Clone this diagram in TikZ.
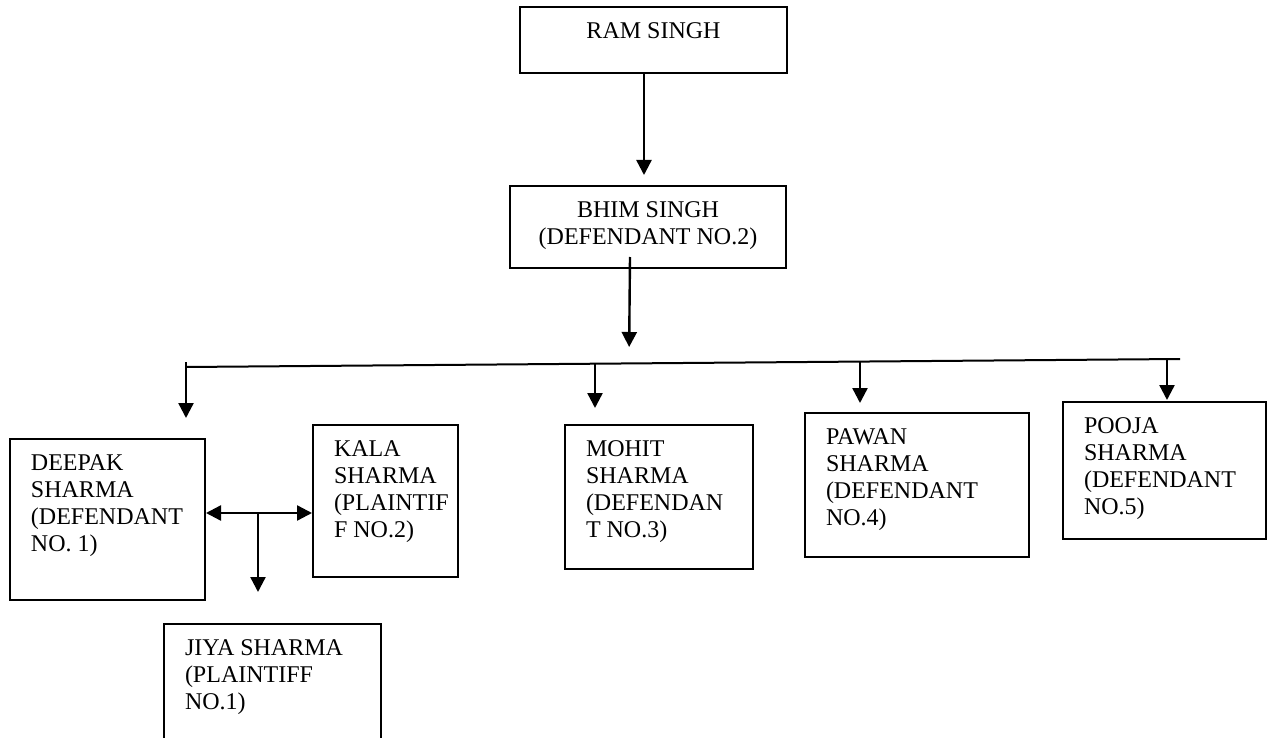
\documentclass[tikz,border=0pt]{standalone}
\usepackage{fontspec}
\setmainfont{Liberation Serif}
\usepackage{tikz}
\usetikzlibrary{arrows.meta,positioning}
% fixed-size text block, text from the top left
\newcommand{\boxtext}[4][\raggedright]{\parbox[c][\dimexpr#3-13pt\relax][t]{\dimexpr#2-21pt\relax}{#1\strut #4}}

\begin{document}
\begin{tikzpicture}[
  x=0.5pt, y=-0.5pt,
  person/.style={draw,line width=1pt,anchor=north west,inner xsep=10.5pt,
                 inner ysep=6.5pt,font=\fontsize{12}{13.5}\selectfont},
  flow/.style={-{Triangle[length=7.5pt,width=7.5pt]},line width=1.2pt},
  twoway/.style={{Triangle[length=7.5pt,width=7.5pt]}-{Triangle[length=7.5pt,width=7.5pt]},
                 line width=1.2pt}
]
\useasboundingbox (0,0) rectangle (1270,738);
\clip (0,0) rectangle (1270,738);
\node[person] (ram-singh) at (519,6) {\boxtext[\centering]{133.5pt}{33pt}{RAM SINGH}};
\node[person] (bhim-singh) at (509,185) {\boxtext[\centering]{138pt}{41pt}{BHIM SINGH\\(DEFENDANT NO.2)}};
\node[person] (deepak) at (9,438) {\boxtext{97.5pt}{80.5pt}{DEEPAK\\SHARMA\\(DEFENDANT\\NO. 1)}};
\node[person] (kala) at (312,424) {\boxtext{72.5pt}{76pt}{KALA\\SHARMA\\(PLAINTIF\\F NO.2)}};
\node[person] (jiya) at (163,623) {\boxtext{108.5pt}{70pt}{JIYA SHARMA\\(PLAINTIFF\\NO.1)}};
\node[person] (mohit) at (564,424) {\boxtext{94pt}{72pt}{MOHIT\\SHARMA\\(DEFENDAN\\T NO.3)}};
\node[person] (pawan) at (804,412) {\boxtext{112pt}{72pt}{PAWAN\\SHARMA\\(DEFENDANT\\NO.4)}};
\node[person] (pooja) at (1062,401) {\boxtext{101.5pt}{68.5pt}{POOJA\\SHARMA\\(DEFENDANT\\NO.5)}};
\coordinate (bar-w) at (186,367);
\coordinate (bar-e) at (1180,359);
\coordinate (bar-mid) at (629,363);
\coordinate (split) at (258,513);
\draw[flow,shorten >=5pt] ([xshift=-4.75pt]ram-singh.south) -- ([xshift=-4.75pt]ram-singh.south |- bhim-singh.north);
\draw[flow,shorten >=8pt] ([xshift=-9pt,yshift=6pt]bhim-singh.south) -- (bar-mid);
\draw[line width=1pt] (bar-w) -- (bar-e);
\foreach \who/\x/\y/\gap in {deepak/186/362/10pt,mohit/595/364/8pt,pawan/860/362/4.5pt,pooja/1167/359/0.5pt}{
  \coordinate (drop-\who) at (\x,\y);
  \draw[flow,shorten >=\gap] (drop-\who) -- (drop-\who |- \who.north);
}
\draw[twoway] (deepak.east |- split) -- (kala.west |- split);
\draw[flow,shorten >=15.5pt] (split) -- (split |- jiya.north);
\end{tikzpicture}
\end{document}
